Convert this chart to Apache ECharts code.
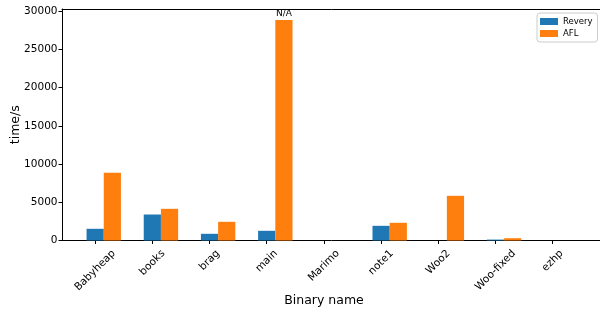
<!DOCTYPE html>
<html><head><meta charset="utf-8">
<script src="https://cdn.jsdelivr.net/npm/echarts@6/dist/echarts.min.js"></script>
<style>html,body{margin:0;padding:0;background:#fff}#c{width:600px;height:314px}</style>
</head><body><div id="c"></div>
<script>
const categories = ['Babyheap','books','brag','main','Marimo','note1','Woo2','Woo-fixed','ezhp'];
const revery = [1530, 3400, 876, 1270, 0, 1920, 0, 120, 0];
const afl = [8850, 4145, 2445, 28850, 0, 2315, 5845, 300, 0];
const aflNotes = ['', '', '', 'N/A', '', '', '', '', ''];
const yTicks = [0, 5000, 10000, 15000, 20000, 25000, 30000];
const seriesNames = ['Revery', 'AFL'];
const colors = ['#1f77b4', '#ff7f0e'];

const FONT = 'DejaVu Sans';
const TICK_FS = 10.5;
const PAIR_OFFSET = 0.15; // bars: Revery centred on tick, AFL next to it
const X_MIN = -0.58, X_MAX = 8.88, Y_MAX = 30290;

// measure label widths to emulate matplotlib's centred rotated labels
const ctx = document.createElement('canvas').getContext('2d');
ctx.font = TICK_FS + 'px "' + FONT + '"';
const rich = {};
categories.forEach((c, i) => {
  const L = ctx.measureText(c).width;
  const p = (L + TICK_FS * 1.164) / 2;
  rich['c' + i] = {fontSize: TICK_FS, fontFamily: FONT, color: '#000', padding: [p, p, 0, 0]};
});
const xIdx = categories.map((_, i) => i);

const chart = echarts.init(document.getElementById('c'), null, {renderer: 'canvas'});
chart.setOption({
  animation: false,
  backgroundColor: '#fff',
  textStyle: {fontFamily: FONT},
  grid: {left: 62, top: 9, width: 541, height: 231.5, containLabel: false, outerBoundsMode: 'none'},
  legend: {
    data: seriesNames, orient: 'vertical', left: 537, top: 13,
    icon: 'rect', itemWidth: 18, itemHeight: 7, itemGap: 3,
    padding: [4, 5, 4, 3], borderColor: '#ccc', borderWidth: 1, borderRadius: 3,
    backgroundColor: '#fff',
    textStyle: {fontSize: 8.5, fontFamily: FONT, color: '#000'}
  },
  xAxis: [{
    type: 'value', min: X_MIN, max: X_MAX, position: 'bottom',
    name: 'Binary name', nameLocation: 'middle', nameGap: 54, nameMoveOverlap: false,
    nameTextStyle: {fontSize: 12.5, fontFamily: FONT, color: '#000', padding: [0, 17, 0, 0]},
    axisLine: {show: true, onZero: false, lineStyle: {color: '#000', width: 1}},
    axisTick: {show: true, length: 3.5, customValues: xIdx, lineStyle: {color: '#000', width: 1}},
    axisLabel: {
      customValues: xIdx, rotate: 45, align: 'center', verticalAlign: 'middle', margin: 7,
      hideOverlap: false,
      formatter: v => '{c' + Math.round(v) + '|' + categories[Math.round(v)] + '}',
      rich: rich
    },
    splitLine: {show: false}
  }, {
    type: 'value', min: X_MIN, max: X_MAX, position: 'top',
    axisLine: {show: true, onZero: false, lineStyle: {color: '#000', width: 1}},
    axisTick: {show: false}, axisLabel: {show: false}, splitLine: {show: false}
  }],
  yAxis: {
    type: 'value', min: 0, max: Y_MAX, position: 'left',
    name: 'time/s', nameLocation: 'middle', nameGap: 40, nameMoveOverlap: false,
    nameTextStyle: {fontSize: 12.5, fontFamily: FONT, color: '#000'},
    axisLine: {show: true, onZero: false, lineStyle: {color: '#000', width: 1}},
    axisTick: {show: true, length: 3.5, customValues: yTicks, lineStyle: {color: '#000', width: 1}},
    axisLabel: {customValues: yTicks, fontSize: TICK_FS, fontFamily: FONT, color: '#000', margin: 4.5,
      formatter: v => String(v)},
    splitLine: {show: false}
  },
  series: [{
    name: seriesNames[0], type: 'bar', xAxisIndex: 0, barWidth: 17.2, barGap: '0%',
    itemStyle: {color: colors[0]},
    data: revery.map((v, i) => [i + PAIR_OFFSET, v])
  }, {
    name: seriesNames[1], type: 'bar', xAxisIndex: 0, barWidth: 17.2, barGap: '0%',
    itemStyle: {color: colors[1]},
    data: afl.map((v, i) => ({
      value: [i + PAIR_OFFSET, v],
      label: aflNotes[i] ? {show: true, position: 'top', distance: 1.5, formatter: aflNotes[i],
        fontSize: 9, fontFamily: FONT, color: '#000'} : {show: false}
    }))
  }]
});
</script></body></html>
